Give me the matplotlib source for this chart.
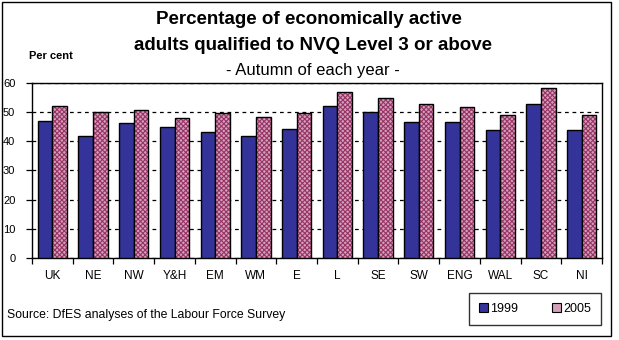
import matplotlib
matplotlib.use("Agg")
import matplotlib.pyplot as plt
from matplotlib.patches import Rectangle, Patch
import numpy as np

regions = ["UK", "NE", "NW", "Y&H", "EM", "WM", "E", "L", "SE", "SW", "ENG", "WAL", "SC", "NI"]
values_1999 = [46.9, 41.7, 46.2, 44.8, 43.2, 41.7, 44.3, 52.1, 50.0, 46.6, 46.6, 43.8, 52.8, 43.8]
values_2005 = [52.1, 50.0, 50.7, 47.9, 49.8, 48.3, 49.8, 56.9, 54.8, 52.8, 51.7, 49.0, 58.3, 49.0]
series_labels = ["1999", "2005"]
y_ticks = [0, 10, 20, 30, 40, 50, 60]

BLUE = "#333399"
PLUM = "#993366"
PLUM_LIGHT = "#D2A0BA"

plt.rcParams["font.family"] = ["Liberation Sans", "DejaVu Sans"]
plt.rcParams["hatch.linewidth"] = 0.8

W, H = 619, 340
fig = plt.figure(figsize=(W / 100, H / 100), dpi=100)
fig.patch.set_facecolor("white")

# outer frame
fig.add_artist(Rectangle((2 / W, 4 / H), 609 / W, 334 / H, transform=fig.transFigure,
                         fill=False, edgecolor="black", linewidth=1.0))

ax = fig.add_axes([32 / W, 82.3 / H, 570 / W, 174.5 / H])
x = np.arange(len(regions))
bw = 0.36

ax.bar(x - bw / 2, values_1999, bw, color=BLUE, edgecolor="black", linewidth=1.0, zorder=3,
       label=series_labels[0])
# checked fill for the 2005 series, then a black outline on top
ax.bar(x + bw / 2, values_2005, bw, color=PLUM_LIGHT, edgecolor=PLUM, hatch="xxxxxxx",
       linewidth=0, zorder=3)
ax.bar(x + bw / 2, values_2005, bw, fill=False, edgecolor="black", linewidth=1.0, zorder=4)

ax.set_xlim(-0.5, len(regions) - 0.5)
ax.set_ylim(0, 60)

ax.set_yticks(y_ticks)
ax.set_yticklabels([str(v) for v in y_ticks], fontsize=8)
ax.yaxis.grid(True, linestyle=(0, (3, 3)), color="black", linewidth=0.9)
ax.set_axisbelow(True)
ax.tick_params(axis="y", direction="out", length=4, width=0.9, pad=8)

ax.set_xticks(np.arange(len(regions) + 1) - 0.5)
ax.set_xticklabels([])
ax.set_xticks(x, minor=True)
ax.set_xticklabels(regions, minor=True, fontsize=8.5)
ax.tick_params(axis="x", which="major", direction="out", length=4, width=0.9)
ax.tick_params(axis="x", which="minor", length=0, pad=9)
for s in ax.spines.values():
    s.set_linewidth(1.0)

fig.text(309 / W, 1 - 20 / H, "Percentage of economically active", ha="center", va="center",
         fontsize=13.5, fontweight="bold")
fig.text(313 / W, 1 - 46 / H, "adults qualified to NVQ Level 3 or above", ha="center",
         va="center", fontsize=13.5, fontweight="bold")
fig.text(313 / W, 1 - 70 / H, "- Autumn of each year -", ha="center", va="center", fontsize=12)
fig.text(29 / W, 1 - 56 / H, "Per cent", ha="left", va="center", fontsize=8, fontweight="bold")
fig.text(7 / W, 1 - 315 / H, "Source: DfES analyses of the Labour Force Survey", ha="left",
         va="center", fontsize=8.8)

# legend
handles = [Patch(facecolor=BLUE, edgecolor="black", linewidth=0.8),
           Patch(facecolor=PLUM_LIGHT, edgecolor="black", linewidth=0.8)]
leg = fig.legend(handles, series_labels, ncol=2, loc="center",
                 bbox_to_anchor=(535 / W, 1 - 309 / H), frameon=True, fancybox=False,
                 edgecolor="black", fontsize=9, handlelength=0.7, handleheight=0.7,
                 handletextpad=0.2, columnspacing=2.7, borderpad=0.8, borderaxespad=0)
leg.get_frame().set_linewidth(1.0)

fig.savefig("out.png", dpi=100)
